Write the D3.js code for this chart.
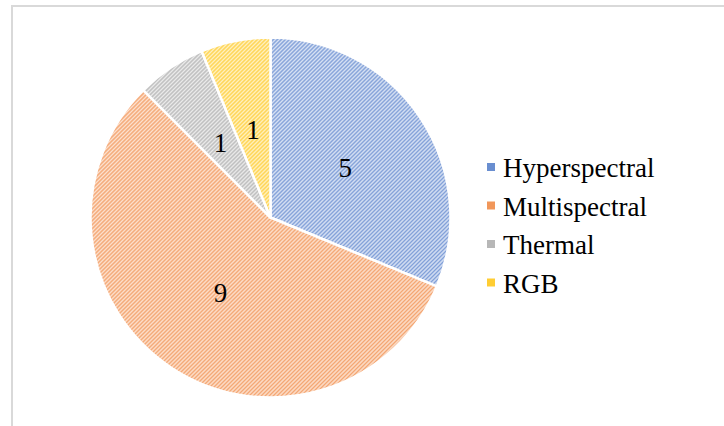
<!DOCTYPE html>
<html>
<head>
<meta charset="utf-8">
<script src="https://cdn.jsdelivr.net/npm/d3@7"></script>
<style>
  body { margin: 0; background: #fff; }
  svg { display: block; }
</style>
</head>
<body>
<div id="chart"></div>
<script>
const categories = ['Hyperspectral', 'Multispectral', 'Thermal', 'RGB'];
const counts = [5, 9, 1, 1];
const colors = ['#4472c4', '#ed7d31', '#a5a5a5', '#ffc000'];
const stripeColors = ['#7b9bd6', '#f3a26c', '#b9b9b9', '#ffd145'];
const lightColors = ['#dfe7f6', '#fde4d4', '#ededed', '#fff3c8'];

const width = 724, height = 426;
const cx = 270.5, cy = 217.5, radius = 180;
const labelFont = '"Liberation Serif", "Times New Roman", serif';

const svg = d3.select('#chart').append('svg')
    .attr('width', width)
    .attr('height', height);

// hatch patterns (upward diagonal)
const defs = svg.append('defs');
categories.forEach((c, i) => {
    const p = defs.append('pattern')
        .attr('id', 'hatch' + i)
        .attr('patternUnits', 'userSpaceOnUse')
        .attr('width', 2.83)
        .attr('height', 2.83)
        .attr('patternTransform', 'rotate(45)');
    p.append('rect').attr('width', 2.83).attr('height', 2.83).attr('fill', lightColors[i]);
    p.append('rect').attr('width', 1.4).attr('height', 2.83).attr('fill', stripeColors[i]);
});

// chart frame
svg.append('rect')
    .attr('x', 12).attr('y', 6)
    .attr('width', 760).attr('height', 460)
    .attr('fill', 'none')
    .attr('stroke', '#d9d9d9')
    .attr('stroke-width', 2);

const pie = d3.pie().sort(null).value(d => d);
const arcs = pie(counts);
const arc = d3.arc().innerRadius(0).outerRadius(radius);
const labelArc = d3.arc().innerRadius(90 * 2).outerRadius(0);

const g = svg.append('g').attr('transform', `translate(${cx},${cy})`);

g.selectAll('path')
    .data(arcs)
    .enter()
    .append('path')
    .attr('d', arc)
    .attr('fill', (d, i) => `url(#hatch${i})`)
    .attr('stroke', '#fff')
    .attr('stroke-width', 2.5)
    .attr('stroke-linejoin', 'round');

g.selectAll('text.lbl')
    .data(arcs)
    .enter()
    .append('text')
    .attr('class', 'lbl')
    .attr('transform', d => `translate(${labelArc.centroid(d)})`)
    .attr('text-anchor', 'middle')
    .attr('dy', '0.35em')
    .attr('font-family', labelFont)
    .attr('font-size', 27)
    .attr('fill', '#000')
    .text(d => d.data);

// legend
const legend = svg.append('g').attr('transform', 'translate(487,177)');
const rows = legend.selectAll('g')
    .data(categories)
    .enter()
    .append('g')
    .attr('transform', (d, i) => `translate(0,${i * 38.5})`);

rows.append('rect')
    .attr('x', 0).attr('y', -14)
    .attr('width', 8).attr('height', 8)
    .attr('fill', (d, i) => colors[i])
    .attr('opacity', 0.8);

rows.append('text')
    .attr('x', 16)
    .attr('font-family', labelFont)
    .attr('font-size', 27)
    .attr('fill', '#000')
    .text(d => d);
</script>
</body>
</html>
